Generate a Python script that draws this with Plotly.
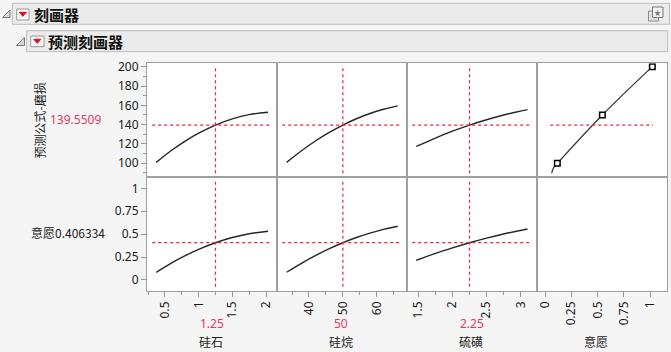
import plotly.graph_objects as go

# ---------------- data ----------------
factor_names = ["硅石", "硅烷", "硫磺", "意愿"]
factor_current = [1.25, 50, 2.25]
factor_current_text = ["1.25", "50", "2.25"]
response_name = "预测公式-磨损"
response_value = 139.5509
response_value_text = "139.5509"
desir_value = 0.406334
desir_label = "意愿0.406334"

silica_x = [0.37, 0.6, 0.8, 1.0, 1.25, 1.5, 1.75, 2.03]
silica_abrasion = [101.0, 113.5, 123.0, 131.2, 139.6, 146.0, 150.4, 152.8]
silica_desir = [0.083, 0.186, 0.265, 0.334, 0.406, 0.463, 0.504, 0.531]

silane_x = [33.4, 38, 42, 46, 50, 54, 58, 62, 66.2]
silane_abrasion = [101.0, 113.5, 123.3, 131.9, 139.55, 146.1, 151.55, 155.9, 159.4]
silane_desir = [0.084, 0.187, 0.268, 0.341, 0.406, 0.463, 0.511, 0.552, 0.586]

sulfur_x = [1.47, 1.75, 2.0, 2.25, 2.5, 2.75, 3.1]
sulfur_abrasion = [117.4, 126.15, 133.2, 139.55, 145.1, 150.0, 155.5]
sulfur_desir = [0.215, 0.290, 0.350, 0.406, 0.457, 0.502, 0.556]

desir_fn_d = [0.061, 0.070, 0.086, 0.115, 0.545, 1.022]
desir_fn_y = [89.6, 93.1, 96.5, 100.0, 150.0, 200.0]
ctrl_d = [0.115, 0.545, 1.022]
ctrl_y = [100, 150, 200]

# ---------------- geometry helpers ----------------
W, H = 671, 352
def px(x):
    return x / W
def py(y):
    return 1 - y / H

col_left = [147, 277, 407, 537]
col_w = 130
row1 = (63.3, 177.3)
row2 = (177.3, 290.7)

x_ranges = [[0.233, 2.163], [30.55, 68.95], [1.334, 3.239], [-0.079, 1.162]]
x_dtick = [0.5, 10, 0.5, 0.25]
x_tick0 = [0.5, 40, 1.5, 0]
x_minor = [0.25, 5, 0.25, None]
y1_range = [85.5, 203.5]
y2_range = [-0.117, 1.12]

RED = "#e8243c"
RED_TXT = "#e33a5c"
FRAME = "#a0a0a0"
TICKC = "#9a9a9a"
CURVE = "#262626"
FONT = "Noto Sans, Noto Sans CJK SC, sans-serif"
CJK = "Noto Sans CJK SC, Noto Sans, sans-serif"

fig = go.Figure()

curves_top = [(silica_x, silica_abrasion), (silane_x, silane_abrasion), (sulfur_x, sulfur_abrasion)]
curves_bot = [(silica_x, silica_desir), (silane_x, silane_desir), (sulfur_x, sulfur_desir)]

layout_axes = {}
for i in range(4):
    dom = [px(col_left[i]), px(col_left[i] + col_w)]
    for r in range(2):
        n = i + 1 + 4 * r
        xa = "xaxis" if n == 1 else f"xaxis{n}"
        ya = "yaxis" if n == 1 else f"yaxis{n}"
        xr = "x" if n == 1 else f"x{n}"
        yr = "y" if n == 1 else f"y{n}"
        rows = row1 if r == 0 else row2
        ax = dict(domain=dom, range=x_ranges[i], anchor=yr, showgrid=False, zeroline=False,
                  showline=True, mirror=True, linecolor=FRAME, linewidth=1,
                  fixedrange=True)
        if r == 1:
            ax.update(ticks="outside", ticklen=5, tickcolor=TICKC, tickwidth=1,
                      tickmode="linear", tick0=x_tick0[i], dtick=x_dtick[i],
                      tickangle=-90, showticklabels=True,
                      tickfont=dict(family=FONT, size=12, color="#1a1a1a"))
            if x_minor[i] is not None:
                ax["minor"] = dict(ticks="outside", ticklen=3, dtick=x_minor[i],
                                   tick0=x_tick0[i], tickcolor=TICKC, showgrid=False)
        else:
            ax.update(ticks="", showticklabels=False)
        layout_axes[xa] = ax
        ay = dict(domain=[py(rows[1]), py(rows[0])], range=y1_range if r == 0 else y2_range,
                  anchor=xr, showgrid=False, zeroline=False, showline=True, mirror=True,
                  linecolor=FRAME, linewidth=1, fixedrange=True)
        if i == 0:
            ay.update(ticks="outside", ticklen=5, tickcolor=TICKC, tickwidth=1,
                      tickmode="linear", showticklabels=True,
                      tickfont=dict(family=FONT, size=12, color="#1a1a1a"))
            if r == 0:
                ay.update(tick0=100, dtick=20,
                          minor=dict(ticks="outside", ticklen=3, dtick=10, tick0=100,
                                     tickcolor=TICKC, showgrid=False))
            else:
                ay.update(tick0=0, dtick=0.25)
        else:
            ay.update(ticks="", showticklabels=False)
        layout_axes[ya] = ay

        # curves
        if i < 3:
            cx, cy = (curves_top if r == 0 else curves_bot)[i]
            fig.add_trace(go.Scatter(x=cx, y=cy, mode="lines", line=dict(color=CURVE, width=1.4, shape="spline"),
                                     xaxis=xr, yaxis=yr, showlegend=False, hoverinfo="skip"))

# desirability function panel
fig.add_trace(go.Scatter(x=desir_fn_d, y=desir_fn_y, mode="lines",
                         line=dict(color="#333333", width=1.2, shape="spline"),
                         xaxis="x4", yaxis="y4", showlegend=False, hoverinfo="skip"))
fig.add_trace(go.Scatter(x=ctrl_d, y=ctrl_y, mode="markers",
                         marker=dict(symbol="square", size=5.5, color="white",
                                     line=dict(color="black", width=1.5)),
                         xaxis="x4", yaxis="y4", showlegend=False, hoverinfo="skip"))
# empty bottom-right panel (keeps the frame and the 意愿 axis)
fig.add_trace(go.Scatter(x=[], y=[], mode="markers", xaxis="x8", yaxis="y8",
                         showlegend=False, hoverinfo="skip"))

shapes = []
dash = "3px,3px"
for i in range(3):
    for r in range(2):
        n = i + 1 + 4 * r
        xr = "x" if n == 1 else f"x{n}"
        yr = "y" if n == 1 else f"y{n}"
        shapes.append(dict(type="line", xref=xr, yref=f"{yr} domain",
                           x0=factor_current[i], x1=factor_current[i], y0=0.035, y1=0.96,
                           line=dict(color=RED, width=1.2, dash=dash), layer="above"))
        yv = response_value if r == 0 else desir_value
        shapes.append(dict(type="line", xref=f"{xr} domain", yref=yr,
                           x0=0.04, x1=0.95, y0=yv, y1=yv,
                           line=dict(color=RED, width=1.2, dash=dash), layer="above"))
shapes.append(dict(type="line", xref="x4 domain", yref="y4", x0=0.102, x1=0.892,
                   y0=response_value, y1=response_value,
                   line=dict(color=RED, width=1.2, dash=dash), layer="above"))

def rect(x0, y0, x1, y1, fill, line, w=1):
    return dict(type="rect", xref="paper", yref="paper", x0=px(x0), x1=px(x1), y0=py(y1), y1=py(y0),
                fillcolor=fill, line=dict(color=line, width=w), layer="below")
def tri(pts, fill, line):
    path = "M " + " L ".join(f"{px(a)},{py(b)}" for a, b in pts) + " Z"
    return dict(type="path", xref="paper", yref="paper", path=path, fillcolor=fill,
                line=dict(color=line, width=1), layer="above")

shapes.append(rect(12.3, 3.3, 669.5, 24.3, "#ebebeb", "#bdbdbd"))
shapes.append(rect(26.7, 30.7, 667.7, 51.7, "#ebebeb", "#bdbdbd"))
shapes.append(tri([(2.5, 17.5), (10, 10), (10, 17.5)], "#d8d8d8", "#7a7a7a"))
shapes.append(tri([(16.5, 45.5), (24.5, 37.5), (24.5, 45.5)], "#d8d8d8", "#7a7a7a"))
shapes.append(dict(type="rect", xref="paper", yref="paper", x0=px(16.7), x1=px(29), y0=py(20), y1=py(9),
                   fillcolor="#f7f7f7", line=dict(color="#9a9a9a", width=1), layer="above"))
shapes.append(dict(type="rect", xref="paper", yref="paper", x0=px(30.7), x1=px(44), y0=py(46.7), y1=py(36),
                   fillcolor="#f7f7f7", line=dict(color="#9a9a9a", width=1), layer="above"))
shapes.append(tri([(19.3, 12.3), (26.3, 12.3), (22.8, 16.3)], "#d0161e", "#d0161e"))
shapes.append(tri([(33.8, 39.3), (40.8, 39.3), (37.3, 43.3)], "#d0161e", "#d0161e"))
shapes.append(dict(type="rect", xref="paper", yref="paper", x0=px(648.5), x1=px(658.5), y0=py(21), y1=py(11),
                   fillcolor="#e0e0e0", line=dict(color="#8a8a8a", width=1), layer="above"))
shapes.append(dict(type="rect", xref="paper", yref="paper", x0=px(652.5), x1=px(663), y0=py(17.5), y1=py(7),
                   fillcolor="#f2f2f2", line=dict(color="#7a7a7a", width=1), layer="above"))

annotations = []
def ann(x, y, text, size=12, color="#1a1a1a", family=CJK, angle=0, xanchor="center", weight="normal"):
    annotations.append(dict(x=px(x), y=py(y), xref="paper", yref="paper", text=text, showarrow=False,
                            xanchor=xanchor, yanchor="middle", textangle=angle,
                            font=dict(size=size, color=color, family=family, weight=weight)))

ann(31.5, 14.3, "刻画器", size=15, color="#111111", xanchor="left", weight="bold")
ann(45.5, 41.3, "预测刻画器", size=15, color="#111111", xanchor="left", weight="bold")
ann(657.8, 12.3, "★", size=7, color="#7a7a7a", family=FONT)
ann(38.5, 121, response_name, size=12, angle=-90)
ann(75.7, 119, response_value_text, size=12, color=RED_TXT, family=FONT)
ann(67.6, 232.7, desir_label, size=12)
x_val_pos = [211.7, 341, 471.7]
for i in range(3):
    ann(x_val_pos[i], 323.3, factor_current_text[i], size=12, color=RED_TXT, family=FONT)
name_pos = [210.5, 340.5, 471, 596]
for i in range(4):
    ann(name_pos[i], 341, factor_names[i], size=12)

fig.update_layout(width=W, height=H, margin=dict(l=0, r=0, t=0, b=0, pad=0, autoexpand=False),
                  paper_bgcolor="#f5f5f5", plot_bgcolor="white", showlegend=False,
                  shapes=shapes, annotations=annotations, **layout_axes)

fig.write_html("out.html", config={"displayModeBar": False})
